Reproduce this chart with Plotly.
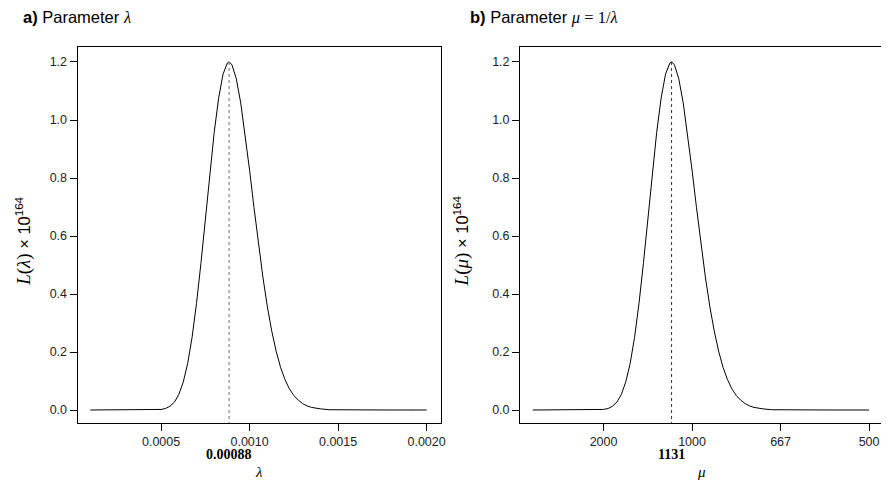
import plotly.graph_objects as go

# ---- data ----
lam = [0.00010, 0.00020, 0.00030, 0.00040, 0.00045, 0.00050, 0.000525, 0.00055,
       0.000575, 0.00060, 0.000625, 0.00065, 0.000675, 0.00070, 0.000725, 0.00075,
       0.000775, 0.00080, 0.000825, 0.00085, 0.000875, 0.000884, 0.00090, 0.000925,
       0.00095, 0.000975, 0.00100, 0.001025, 0.00105, 0.001075, 0.00110, 0.001125,
       0.00115, 0.001175, 0.00120, 0.001225, 0.00125, 0.001275, 0.00130, 0.001325,
       0.00135, 0.001375, 0.00140, 0.00145, 0.00150, 0.00160, 0.00170, 0.00180,
       0.00190, 0.00200]
lik = [0.000, 0.000, 0.000, 0.000, 0.0002, 0.002, 0.005, 0.013,
       0.027, 0.053, 0.096, 0.160, 0.250, 0.367, 0.505, 0.658,
       0.813, 0.957, 1.075, 1.158, 1.197, 1.200, 1.191, 1.142,
       1.059, 0.951, 0.827, 0.698, 0.574, 0.459, 0.358, 0.273,
       0.203, 0.147, 0.105, 0.073, 0.050, 0.034, 0.022, 0.014,
       0.009, 0.006, 0.004, 0.001, 0.0005, 0.000, 0.000, 0.000,
       0.000, 0.000]

mu_hat = 1131
lam_hat = 1 / mu_hat
lam_hat_label = "0.00088"
mu_hat_label = "1131"

lam_ticks = [0.0005, 0.0010, 0.0015, 0.0020]
lam_tick_labels = ["0.0005", "0.0010", "0.0015", "0.0020"]
mu_tick_labels = ["2000", "1000", "667", "500"]
y_ticks = [0.0, 0.2, 0.4, 0.6, 0.8, 1.0, 1.2]

W, H = 886, 480
SANS = "Liberation Sans, Arial, sans-serif"
SERIF = "Liberation Serif, Times New Roman, serif"


def px(x):
    return x / W


def py(y):
    return 1 - y / H


fig = go.Figure()

for xa, ya, dcol in (("x", "y", "#6a6a6a"), ("x2", "y2", "#333333")):
    fig.add_trace(go.Scatter(x=lam, y=lik, mode="lines", xaxis=xa, yaxis=ya,
                             line=dict(color="black", width=1), hoverinfo="skip",
                             showlegend=False))
    fig.add_trace(go.Scatter(x=[lam_hat, lam_hat], y=[max(lik), -0.05], mode="lines",
                             xaxis=xa, yaxis=ya,
                             line=dict(color=dcol, width=1, dash="3px,3px"),
                             hoverinfo="skip", showlegend=False))

axis_common = dict(showline=True, linecolor="black", linewidth=1, ticks="outside",
                   ticklen=7, tickwidth=1, tickcolor="black", showgrid=False,
                   zeroline=False, tickfont=dict(family=SANS, size=12.5, color="#222"))

yr = [-0.0448, 1.2517]
fig.update_layout(
    width=W, height=H, margin=dict(l=0, r=0, t=0, b=0),
    paper_bgcolor="white", plot_bgcolor="white",
    xaxis=dict(domain=[px(78), px(443)], range=[0.0000281, 0.0020787], anchor="y",
               mirror=True, tickvals=lam_ticks, ticktext=lam_tick_labels, **axis_common),
    yaxis=dict(domain=[py(423), py(47)], range=yr, anchor="x", mirror=True,
               tickvals=y_ticks, tickformat=".1f", **axis_common),
    xaxis2=dict(domain=[px(523), 1.0], range=[(523 - 518) / 178000, (886 - 518) / 178000],
                anchor="y2", mirror=True, tickvals=lam_ticks, ticktext=mu_tick_labels,
                **axis_common),
    yaxis2=dict(domain=[py(423), py(47)], range=yr, anchor="x2", mirror=False,
                tickvals=y_ticks, tickformat=".1f", **axis_common),
)

ann = []
# panel titles
ann.append(dict(text="<b>a)</b> Parameter <span style=\"font-family:'Liberation Serif'\"><i>λ</i></span>",
                x=px(21), y=py(18), xanchor="left", yanchor="middle"))
ann.append(dict(text="<b>b)</b> Parameter <span style=\"font-family:'Liberation Serif'\"><i>μ</i> = 1/<i>λ</i></span>",
                x=px(471), y=py(18), xanchor="left", yanchor="middle"))
for a in ann:
    a.update(xref="paper", yref="paper", showarrow=False,
             font=dict(family=SANS, size=16.5, color="black"))

ylab_l = "<span style=\"font-family:'Liberation Serif';font-size:19px\"><i>L</i>(<i>λ</i>)</span> × 10<sup>164</sup>"
ylab_r = "<span style=\"font-family:'Liberation Serif';font-size:19px\"><i>L</i>(<i>μ</i>)</span> × 10<sup>164</sup>"
for txt, xx in ((ylab_l, 24), (ylab_r, 465)):
    ann.append(dict(text=txt, x=px(xx), y=py(241), xref="paper", yref="paper",
                    textangle=-90, showarrow=False, xanchor="center", yanchor="middle",
                    font=dict(family=SANS, size=16.5, color="black")))

# MLE labels under the axes
ann.append(dict(text="<b>" + lam_hat_label + "</b>", x=lam_hat, xref="x", y=py(454), yref="paper",
                showarrow=False, xanchor="center", yanchor="middle",
                font=dict(family=SERIF, size=14, color="black")))
ann.append(dict(text="<b>" + mu_hat_label + "</b>", x=lam_hat, xref="x2", y=py(454), yref="paper",
                showarrow=False, xanchor="center", yanchor="middle",
                font=dict(family=SERIF, size=14, color="black")))
# axis labels
ann.append(dict(text="<i>λ</i>", x=px(260.5), y=py(472), xref="paper", yref="paper",
                showarrow=False, xanchor="center", yanchor="middle",
                font=dict(family=SERIF, size=15, color="black")))
ann.append(dict(text="<i>μ</i>", x=px(705), y=py(472), xref="paper", yref="paper",
                showarrow=False, xanchor="center", yanchor="middle",
                font=dict(family=SERIF, size=15, color="black")))

fig.update_layout(annotations=ann)
fig.write_html("out.html")
